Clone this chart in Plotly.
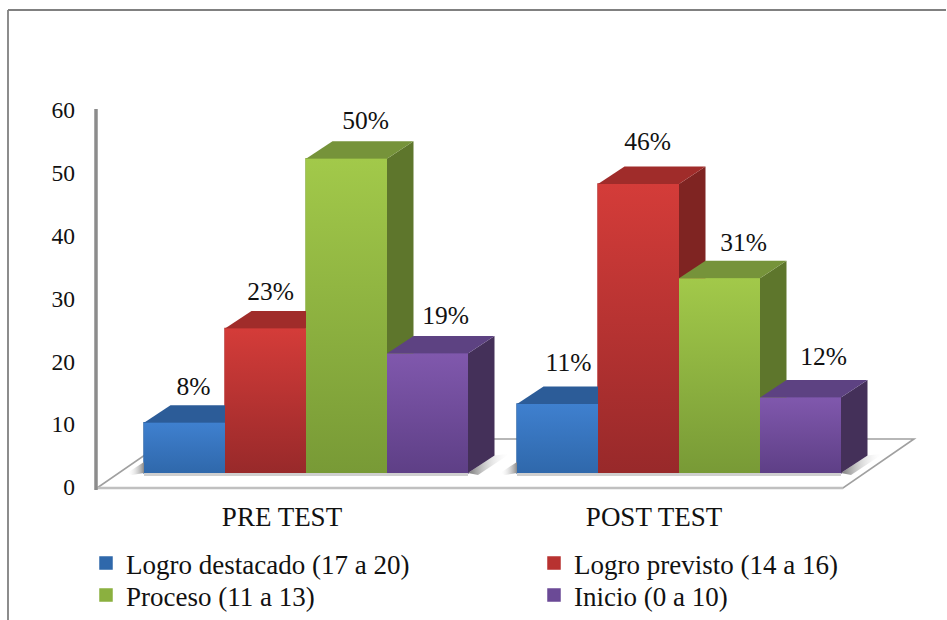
import plotly.graph_objects as go

# ---------- data ----------
groups = ["PRE TEST", "POST TEST"]
series_names = ["Logro destacado (17 a 20)", "Logro previsto (14 a 16)", "Proceso (11 a 13)", "Inicio (0 a 10)"]
logro_destacado = [8, 11]
logro_previsto = [23, 46]
proceso = [50, 31]
inicio = [19, 12]
y_ticks = [0, 10, 20, 30, 40, 50, 60]

# ---------- styles ----------
front_top = ["#3f80cf", "#d43c39", "#a2c94a", "#8058ad"]
front_bottom = ["#2f68ab", "#98292a", "#789a36", "#5e3f86"]
top_face = ["#2c5c98", "#a02c2a", "#76933a", "#5d4282"]
side_face = ["#264d7e", "#7f2422", "#5e762c", "#443059"]
legend_col = ["#2f68ab", "#b83230", "#8bb03f", "#6b4a96"]
FONT = "Liberation Serif"
TXT = "#111111"

# ---------- geometry (pixels of the page -> axis units) ----------
W, H = 947, 620
PL, PR, PT, PB = 88, 925, 100, 495   # drawing area
Y0_PX, Y60_PX = 487, 110
PX_PER_UNIT = (Y0_PX - Y60_PX) / 60
GROUP_PX = 373
BAR_PX = 81
C0 = 306  # centre of first group in px
xu = lambda px: px / GROUP_PX
yu = lambda px: px / PX_PER_UNIT
xpos = lambda px: (px - C0) / GROUP_PX
ypos = lambda py: (Y0_PX - py) / PX_PER_UNIT
xp = lambda px: px / W
yp = lambda py: 1 - py / H

bw = xu(BAR_PX)
lift = yu(14)
dx, dy = xu(26.5), yu(17.5)

all_series = [logro_destacado, logro_previsto, proceso, inicio]
label_dx_px = [[9, 5, 19, 18], [11, 9, 24, 23]]
label_dy_px = [[34.5, 35, 36, 35.5], [39.5, 40.5, 34, 38.5]]
legend_ids = ["legend", "legend2", "legend3", "legend4"]
legend_left_px = [86, 534, 86, 534]
legend_top_px = [539, 539, 571, 571]

fig = go.Figure()

# real bars (carry the legend), covered by the shaded faces
for i, (name, vals) in enumerate(zip(series_names, all_series)):
    fig.add_bar(x=[0, 1], y=vals, base=lift, name=name, legend=legend_ids[i], showlegend=True,
                marker=dict(color=legend_col[i], line=dict(width=1.5, color=legend_col[i])),
                hoverinfo="skip")

# soft shadows on the floor
for g in (0, 1):
    left = g - 2 * bw
    right = g + 2 * bw
    fig.add_scatter(x=[right + dx, right + dx + xu(16), right + xu(10), right],
                    y=[lift + dy, lift + dy + yu(2), lift - yu(2), lift],
                    mode="none", fill="toself", showlegend=False, hoverinfo="skip",
                    fillgradient=dict(type="horizontal",
                                      colorscale=[[0, "#777777"], [1, "rgba(255,255,255,0)"]]))
    fig.add_scatter(x=[left - xu(17), left, left, left - xu(12)],
                    y=[lift, lift + yu(11), lift, lift - yu(2)],
                    mode="none", fill="toself", showlegend=False, hoverinfo="skip",
                    fillgradient=dict(type="horizontal",
                                      colorscale=[[0, "rgba(255,255,255,0)"], [1, "#8a8a8a"]]))
    fig.add_scatter(x=[left, right], y=[lift - yu(1.5)] * 2, mode="lines",
                    line=dict(color="#cfcfcf", width=3), showlegend=False, hoverinfo="skip")

# 3D faces, drawn series by series so later bars overlap earlier sides
for i, vals in enumerate(all_series):
    for g, v in enumerate(vals):
        xl = g + (i - 2) * bw
        xr = xl + bw
        y0 = lift
        y1 = lift + v
        fig.add_scatter(x=[xr, xr + dx, xr + dx, xr, xr], y=[y0, y0 + dy, y1 + dy, y1, y0],
                        mode="none", fill="toself", fillcolor=side_face[i],
                        showlegend=False, hoverinfo="skip")
        fig.add_scatter(x=[xl, xr, xr + dx, xl + dx, xl], y=[y1, y1, y1 + dy, y1 + dy, y1],
                        mode="none", fill="toself", fillcolor=top_face[i],
                        showlegend=False, hoverinfo="skip")
        fig.add_scatter(x=[xl, xr, xr, xl, xl], y=[y0, y0, y1, y1, y0],
                        mode="none", fill="toself", showlegend=False, hoverinfo="skip",
                        fillgradient=dict(type="vertical",
                                          colorscale=[[0, front_bottom[i]], [1, front_top[i]]]))

# percent labels
for g in range(2):
    for i, vals in enumerate(all_series):
        v = vals[g]
        fig.add_scatter(x=[g + (i - 1.5) * bw + xu(label_dx_px[g][i])],
                        y=[lift + v + yu(label_dy_px[g][i])],
                        mode="text", text=[f"{v}%"], textposition="middle center",
                        textfont=dict(family=FONT, size=25.5, color=TXT),
                        showlegend=False, hoverinfo="skip")

# floor and walls
floor_x = [xpos(97), xpos(843), xpos(914), xpos(168), xpos(97)]
floor_y = [ypos(488), ypos(488), ypos(439), ypos(439), ypos(488)]
fig.add_shape(type="path", layer="below", xref="x", yref="y",
              path="M" + " L".join(f"{a},{b}" for a, b in zip(floor_x, floor_y)) + " Z",
              fillcolor="white", line=dict(color="#a0a0a0", width=1.6))
fig.add_shape(type="line", xref="x", yref="y", x0=xpos(97), x1=xpos(843), y0=ypos(488), y1=ypos(488),
              layer="below", line=dict(color="#c0c0c0", width=2.5))
fig.add_shape(type="line", xref="x", yref="y", x0=xpos(96), x1=xpos(96), y0=ypos(490), y1=ypos(109),
              line=dict(color="#8c8c8c", width=3.5))

# page frame
fig.add_shape(type="line", xref="paper", yref="paper", x0=xp(8), x1=xp(946), y0=yp(10), y1=yp(10),
              line=dict(color="#808080", width=1.8))
fig.add_shape(type="line", xref="paper", yref="paper", x0=xp(8), x1=xp(8), y0=yp(10), y1=yp(620),
              line=dict(color="#808080", width=1.8))

legends = {}
for i, lid in enumerate(legend_ids):
    legends[lid] = dict(orientation="v", xref="paper", yref="paper",
                        x=xp(legend_left_px[i]), y=yp(legend_top_px[i]),
                        xanchor="left", yanchor="top",
                        itemclick=False, itemdoubleclick=False,
                        font=dict(family=FONT, size=27, color=TXT),
                        bgcolor="rgba(0,0,0,0)")

fig.update_layout(
    width=W, height=H, autosize=False,
    margin=dict(l=0, r=0, t=0, b=0, pad=0, autoexpand=False),
    paper_bgcolor="white", plot_bgcolor="rgba(0,0,0,0)",
    barmode="group", bargap=1 - 4 * bw, bargroupgap=0,
    font=dict(family=FONT, size=25, color=TXT),
    xaxis=dict(domain=[xp(PL), xp(PR)], range=[xpos(PL), xpos(PR)], tickmode="array",
               tickvals=[xpos(282), xpos(654)], ticktext=groups,
               showgrid=False, zeroline=False, showline=False, ticks="",
               ticklabelstandoff=3, tickfont=dict(family=FONT, size=27, color=TXT)),
    yaxis=dict(domain=[yp(PB), yp(PT)], range=[ypos(PB), ypos(PT)], tickmode="array", tickvals=y_ticks,
               showgrid=False, zeroline=False, showline=False, ticks="",
               ticklabelstandoff=12, tickfont=dict(family=FONT, size=23.5, color=TXT)),
    **legends,
)

fig.write_html("out.html", post_script="document.body.style.margin='0';",
               config={"displayModeBar": False})
